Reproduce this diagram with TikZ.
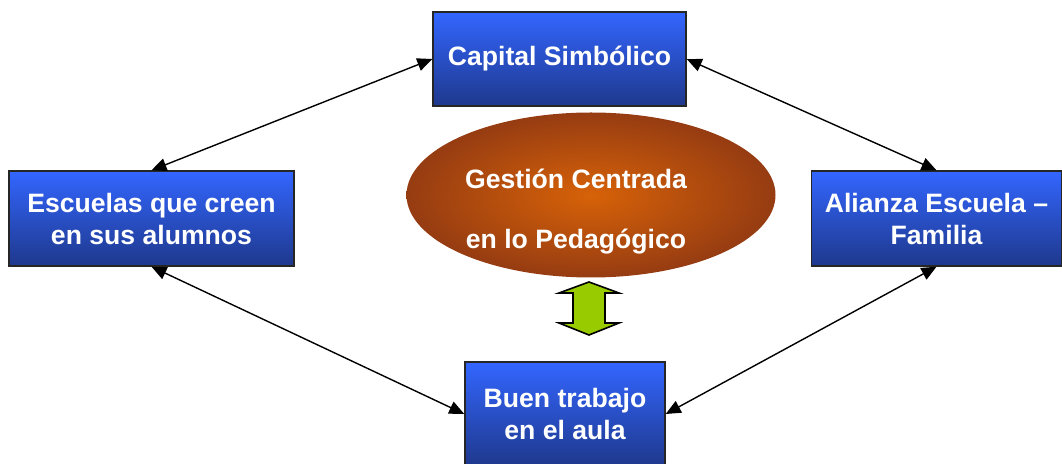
\documentclass[tikz,border=0pt]{standalone}
\usepackage{fontspec}
\setsansfont{Liberation Sans}
\usepackage{tikz}
\usetikzlibrary{arrows.meta,shapes.geometric,positioning}
\definecolor{boxtop}{RGB}{51,102,255}
\definecolor{boxbot}{RGB}{30,56,140}
\definecolor{ovalin}{RGB}{215,98,8}
\definecolor{ovalout}{RGB}{150,60,18}
\definecolor{arrowgreen}{RGB}{153,204,0}

\begin{document}
\begin{tikzpicture}[
x=0.5pt,y=-0.5pt,
font=\bfseries\sffamily\fontsize{13.3}{16}\selectfont,
box/.style={draw=black!85,line width=0.7pt,top color=boxtop,bottom color=boxbot,text=white,align=center,inner sep=0pt},
link/.style={{Triangle[length=7.5pt,width=6.5pt]}-{Triangle[length=7.5pt,width=6.5pt]},line width=0.7pt}]
    % Frame
    \path[use as bounding box,clip] (0,0) rectangle (1062,464);

    % Boxes
    \node[box,minimum width=126.5pt,minimum height=47pt] (capital) at (559.5,59) {Capital Simbólico};
    \node[box,minimum width=142.5pt,minimum height=47.5pt] (escuelas) at (151.5,218.5) {Escuelas que creen\\en sus alumnos};
    \node[box,minimum width=125pt,minimum height=47.5pt] (alianza) at (936.5,218.5) {Alianza Escuela –\\Familia};
    \node[box,minimum width=100pt,minimum height=52pt] (aula) at (565,414) {Buen trabajo\\en el aula};

    % Center oval
    \node[ellipse,minimum width=184.5pt,minimum height=82.5pt,inner color=ovalin,outer color=ovalout] (gestion) at (591,195) {};
    \node[text=white,align=center] (gestiontxt) at (576,212) {Gestión Centrada\\[14pt]en lo Pedagógico};

    % Green double arrow
    \draw[fill=arrowgreen,line width=0.8pt] (589,282) -- (619,293) -- (605,293) -- (605,323) -- (619,323)
        -- (589,335) -- (559,323) -- (573,323) -- (573,293) -- (559,293) -- cycle;

    % Links
    \draw[link] (escuelas.north) -- (capital.west);
    \draw[link] (capital.east) -- (alianza.north);
    \draw[link] (escuelas.south) -- (aula.west);
    \draw[link] (alianza.south) -- (aula.east);

\end{tikzpicture}
\end{document}
